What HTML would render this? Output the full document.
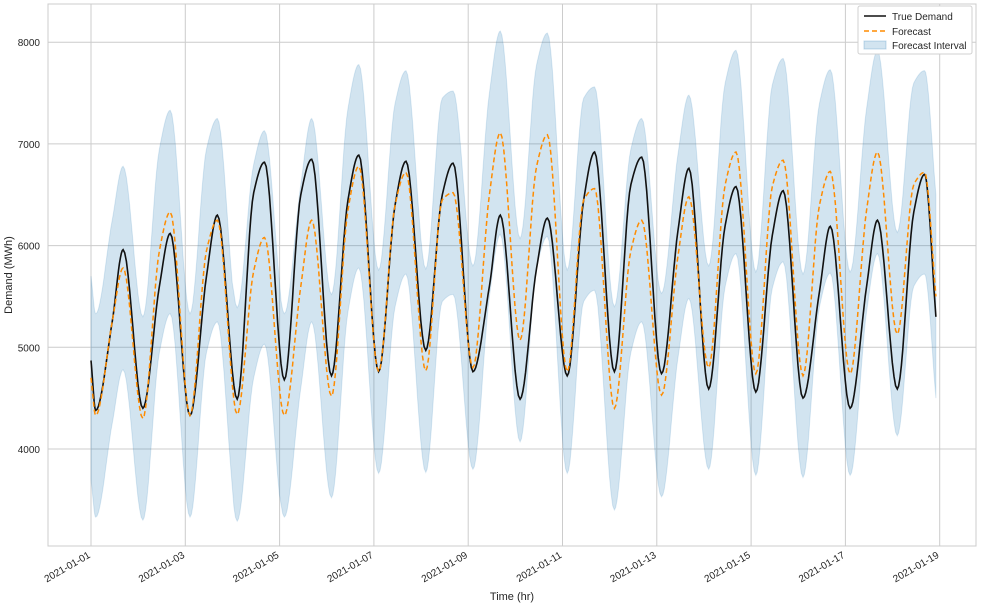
<!DOCTYPE html>
<html><head><meta charset="utf-8"><style>
body{margin:0;background:#fff;font-family:"Liberation Sans",sans-serif}
svg text{font-family:"Liberation Sans",sans-serif;fill:#262626}
</style></head><body>
<svg id="chart" width="984" height="608">
<defs><clipPath id="pc"><rect x="48" y="4" width="928" height="542"/></clipPath></defs>
<rect x="48" y="4" width="928" height="542" fill="#fff" stroke="#cccccc"/>
<g id="grid"></g><g id="band" clip-path="url(#pc)"></g><g id="lines" clip-path="url(#pc)"></g><g id="axes"></g>
<text x="512" y="600" font-size="11" text-anchor="middle">Time (hr)</text>
<text transform="translate(12,275) rotate(-90)" font-size="11" text-anchor="middle">Demand (MWh)</text>
<g>
<rect x="858" y="6" width="114" height="48" fill="#fff" stroke="#d0d0d0" rx="2"/>
<line x1="864" y1="16" x2="886" y2="16" stroke="#111" stroke-width="1.6"/>
<text x="892" y="20" font-size="10">True Demand</text>
<line x1="864" y1="31" x2="886" y2="31" stroke="darkorange" stroke-width="1.6" stroke-dasharray="5,3"/>
<text x="892" y="35" font-size="10">Forecast</text>
<rect x="864" y="41" width="22" height="8" fill="#1f77b4" fill-opacity="0.2" stroke="#1f77b4" stroke-opacity="0.25"/>
<text x="892" y="49" font-size="10">Forecast Interval</text>
</g>
</svg>
<script>
const tickDays=[0,2,4,6,8,10,12,14,16,18];
const tickLabels=["2021-01-01","2021-01-03","2021-01-05","2021-01-07","2021-01-09","2021-01-11","2021-01-13","2021-01-15","2021-01-17","2021-01-19"];
const yTicks=[4000,5000,6000,7000,8000];
// per-day values (day index 0..17)
const trueTroughs=[4380,4400,4330,4490,4680,4720,4760,4970,4760,4490,4720,4760,4740,4590,4560,4500,4400,4590];
const truePlateaus=[5250,5600,5700,6520,6500,6450,6400,6500,5600,5780,6450,6600,6150,6200,6100,5550,5600,6330];
const truePeaks=[5960,6120,6300,6820,6850,6890,6830,6810,6300,6270,6920,6870,6760,6580,6540,6190,6250,6700];
const trueStart=4870, trueEnd=5300;
const fcTroughs=[4330,4300,4330,4340,4330,4520,4760,4770,4800,5070,4760,4400,4530,4800,4740,4720,4740,5130];
const fcPlateaus=[5250,5950,5950,5750,5600,6350,6400,6450,6500,6780,6450,5950,5900,6600,6580,6400,6350,6600];
const fcPeaks=[5780,6330,6250,6080,6250,6780,6720,6520,7110,7090,6560,6250,6480,6920,6840,6730,6920,6720];
const fcStart=4700, fcEnd=5500;
const intervalHalfWidth=[1000,1000,1000,1050,1000,1000,1000,1000,1000,1000,1000,1000,1000,1000,1000,1000,1000,1000];

const NS="http://www.w3.org/2000/svg";
const X=t=>91+t*47.15, Y=v=>449-(v-4000)*0.1017;
function mk(tag,attrs,parent){const e=document.createElementNS(NS,tag);for(const k in attrs)e.setAttribute(k,attrs[k]);parent.appendChild(e);return e;}
function knots(start,tr,pl,pk,end){
  const k=[[0,start]];
  for(let d=0;d<tr.length;d++){k.push([d+0.1,tr[d]]);k.push([d+0.45,pl[d]]);k.push([d+0.68,pk[d]]);}
  k.push([tr.length-0.08,end]);return k;
}
function sample(k){ // monotone cubic (Fritsch-Carlson)
  const n=k.length,dx=[],s=[],m=[];
  for(let i=0;i<n-1;i++){dx.push(k[i+1][0]-k[i][0]);s.push((k[i+1][1]-k[i][1])/dx[i]);}
  m[0]=s[0];m[n-1]=s[n-2];
  for(let i=1;i<n-1;i++){ if(s[i-1]*s[i]<=0)m[i]=0; else {const w1=2*dx[i]+dx[i-1],w2=dx[i]+2*dx[i-1];m[i]=(w1+w2)/(w1/s[i-1]+w2/s[i]);} }
  const out=[];
  for(let i=0;i<n-1;i++){const h=dx[i];
    for(let j=0;j<12;j++){const u=j/12,u2=u*u,u3=u2*u;
      const y=(2*u3-3*u2+1)*k[i][1]+(u3-2*u2+u)*h*m[i]+(-2*u3+3*u2)*k[i+1][1]+(u3-u2)*h*m[i+1];
      out.push([k[i][0]+u*h,y]);}}
  out.push(k[n-1]);return out;
}
const grid=document.getElementById('grid'),axes=document.getElementById('axes');
tickDays.forEach((d,i)=>{
  const l=mk('line',{x1:X(d),x2:X(d),y1:4,y2:546,stroke:'#cccccc'},grid);
  
  const t=mk('text',{'font-size':10,'text-anchor':'end',transform:`translate(${X(d)},${557}) rotate(-30)`},axes);
  t.textContent=tickLabels[i];
  
});
yTicks.forEach(v=>{
  const l=mk('line',{x1:48,x2:976,y1:Y(v),y2:Y(v),stroke:'#cccccc'},grid);
  
  const t=mk('text',{x:40,y:Y(v)+4,'font-size':10,'text-anchor':'end'},axes);
  t.textContent=v;
  
});
const tk=sample(knots(trueStart,trueTroughs,truePlateaus,truePeaks,trueEnd));
const fk=sample(knots(fcStart,fcTroughs,fcPlateaus,fcPeaks,fcEnd));
const hw=t=>intervalHalfWidth[Math.min(intervalHalfWidth.length-1,Math.max(0,Math.floor(t)))];
let bp='M'+fk.map(p=>X(p[0]).toFixed(1)+','+Y(p[1]+hw(p[0])).toFixed(1)).join('L');
bp+='L'+fk.slice().reverse().map(p=>X(p[0]).toFixed(1)+','+Y(p[1]-hw(p[0])).toFixed(1)).join('L')+'Z';
const band=mk('path',{d:bp,fill:'#1f77b4','fill-opacity':0.2,stroke:'#1f77b4','stroke-opacity':0.15},document.getElementById('band'));

const path=pts=>'M'+pts.map(p=>X(p[0]).toFixed(1)+','+Y(p[1]).toFixed(1)).join('L');
const lt=mk('path',{d:path(tk),fill:'none',stroke:'#111','stroke-width':1.6},document.getElementById('lines'));

const lf=mk('path',{d:path(fk),fill:'none',stroke:'darkorange','stroke-width':1.5,'stroke-dasharray':'5,3'},document.getElementById('lines'));

</script>
</body></html>
